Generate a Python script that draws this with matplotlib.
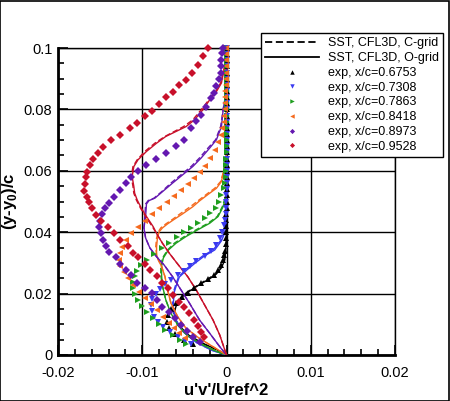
import matplotlib
matplotlib.use("Agg")
import matplotlib.pyplot as plt
from matplotlib.lines import Line2D
from matplotlib.patches import Rectangle
from matplotlib.ticker import MultipleLocator, FixedLocator

plt.rcParams['font.family'] = ['Liberation Sans', 'DejaVu Sans']
plt.rcParams['mathtext.fontset'] = 'custom'
plt.rcParams['mathtext.rm'] = 'Liberation Sans'
plt.rcParams['mathtext.bf'] = 'Liberation Sans:bold'

# ---------------- experimental data ----------------
exp_labels = ["exp, x/c=0.6753", "exp, x/c=0.7308", "exp, x/c=0.7863",
              "exp, x/c=0.8418", "exp, x/c=0.8973", "exp, x/c=0.9528"]

y_exp_black = [0.100, 0.098, 0.096, 0.094, 0.092, 0.090, 0.088, 0.086, 0.084, 0.082,
               0.080, 0.078, 0.076, 0.074, 0.072, 0.070, 0.068, 0.066, 0.064, 0.062,
               0.060, 0.058, 0.056, 0.054, 0.052, 0.050, 0.048, 0.046, 0.044, 0.042,
               0.040, 0.038, 0.036, 0.034, 0.0325, 0.031, 0.0293, 0.0277, 0.0261, 0.0247,
               0.0234, 0.0217, 0.0203, 0.0188, 0.0169, 0.0149, 0.0130, 0.0109, 0.0088,
               0.0068, 0.0050, 0.0035]
x_exp_black = [0.0, 0.0, 0.0, 0.0, 0.0, 0.0, 0.0, 0.0, 0.0, 0.0,
               0.0, 0.0, 0.0, 0.0, 0.0, 0.0, 0.0, 0.0, 0.0, 0.0,
               0.0, 0.0, 0.0, 0.0, 0.0, 0.0, 0.0, -0.0001, -0.0001, -0.0001,
               -0.0001, -0.0001, -0.0001, -0.0002, -0.0003, -0.0004, -0.0006, -0.0010, -0.0015, -0.0022,
               -0.0030, -0.0038, -0.0046, -0.0053, -0.0060, -0.0066, -0.0070, -0.0071, -0.0068,
               -0.0061, -0.0050, -0.0040]

y_exp_blue = [0.100, 0.098, 0.096, 0.094, 0.092, 0.090, 0.088, 0.086, 0.084, 0.082,
              0.080, 0.078, 0.076, 0.074, 0.072, 0.070, 0.068, 0.066, 0.064, 0.062,
              0.060, 0.058, 0.056, 0.054, 0.052, 0.050, 0.048, 0.046, 0.0440, 0.0424,
              0.0402, 0.0380, 0.0358, 0.0340, 0.0322, 0.0305, 0.0290, 0.0275, 0.0260, 0.0245,
              0.0230, 0.0215, 0.0199, 0.0181, 0.0163, 0.0143, 0.0124, 0.0108, 0.0091, 0.0075,
              0.0059, 0.0045, 0.0035]
x_exp_blue = [0.0, 0.0, 0.0, 0.0, 0.0, 0.0, 0.0, 0.0, 0.0, 0.0,
              0.0, 0.0, 0.0, 0.0, 0.0, 0.0, 0.0, 0.0, 0.0, 0.0,
              0.0, 0.0, 0.0, 0.0, -0.0001, -0.0001, -0.0001, -0.0001, -0.0002, -0.0003,
              -0.0005, -0.0008, -0.0012, -0.0018, -0.0026, -0.0036, -0.0043, -0.0050, -0.0058, -0.0066,
              -0.0073, -0.0079, -0.0084, -0.0088, -0.0090, -0.0089, -0.0086, -0.0081, -0.0075, -0.0067,
              -0.0058, -0.0049, -0.0042]

y_exp_green = [0.100, 0.098, 0.096, 0.094, 0.092, 0.090, 0.088, 0.086, 0.084, 0.082,
               0.080, 0.078, 0.076, 0.074, 0.072, 0.070, 0.068, 0.066, 0.064, 0.062,
               0.060, 0.058, 0.056, 0.0543, 0.0522, 0.0500, 0.0480, 0.0462, 0.0446, 0.0430,
               0.0415, 0.0400, 0.0383, 0.0365, 0.0347, 0.0329, 0.0311, 0.0293, 0.0275, 0.0256,
               0.0237, 0.0218, 0.0199, 0.0180, 0.0161, 0.0141, 0.0121, 0.0101, 0.0083, 0.0066,
               0.0050, 0.0035]
x_exp_green = [0.0, 0.0, 0.0, 0.0, 0.0, 0.0, 0.0, 0.0, 0.0, 0.0,
               0.0, 0.0, 0.0, 0.0, 0.0, 0.0, 0.0, 0.0, -0.0001, -0.0001,
               -0.0001, -0.0001, -0.0002, -0.0003, -0.0006, -0.0009, -0.0013, -0.0019, -0.0026, -0.0034,
               -0.0042, -0.0050, -0.0059, -0.0068, -0.0077, -0.0086, -0.0094, -0.0101, -0.0106, -0.0109,
               -0.0111, -0.0111, -0.0109, -0.0105, -0.0100, -0.0094, -0.0087, -0.0080, -0.0073, -0.0064,
               -0.0055, -0.0048]

y_exp_orange = [0.100, 0.098, 0.096, 0.094, 0.092, 0.090, 0.088, 0.086, 0.084, 0.082,
                0.080, 0.078, 0.0760, 0.0740, 0.0717, 0.0694, 0.0668, 0.0642, 0.0616, 0.0596,
                0.0576, 0.0557, 0.0538, 0.0518, 0.0498, 0.0478, 0.0458, 0.0438, 0.0418, 0.0397,
                0.0375, 0.0353, 0.0331, 0.0309, 0.0289, 0.0270, 0.0250, 0.0228, 0.0206, 0.0185,
                0.0165, 0.0145, 0.0125, 0.0105, 0.0088, 0.0072, 0.0056]
x_exp_orange = [-0.0001, -0.0001, -0.0001, -0.0001, -0.0001, -0.0001, -0.0001, -0.0002, -0.0002, -0.0002,
                -0.0002, -0.0003, -0.0003, -0.0005, -0.0007, -0.0010, -0.0014, -0.0019, -0.0025, -0.0031,
                -0.0038, -0.0046, -0.0054, -0.0062, -0.0071, -0.0080, -0.0088, -0.0097, -0.0105, -0.0113,
                -0.0119, -0.0124, -0.0127, -0.0128, -0.0126, -0.0122, -0.0117, -0.0111, -0.0104, -0.0097,
                -0.0090, -0.0082, -0.0075, -0.0068, -0.0062, -0.0056, -0.0049]

y_exp_purple = [0.1000, 0.0984, 0.0962, 0.0940, 0.0918, 0.0899, 0.0877, 0.0855, 0.0837, 0.0809,
                0.0782, 0.0761, 0.0739, 0.0701, 0.0681, 0.0658, 0.0638, 0.0619, 0.0598, 0.0581,
                0.0560, 0.0538, 0.0516, 0.0496, 0.0478, 0.0460, 0.0438, 0.0418, 0.0397, 0.0375,
                0.0355, 0.0337, 0.0320, 0.0297, 0.0277, 0.0261, 0.0236, 0.0217, 0.0201, 0.0179,
                0.0157, 0.0141, 0.0120, 0.0098, 0.0078, 0.0058, 0.0042]
x_exp_purple = [-0.0004, -0.0005, -0.0006, -0.0006, -0.0007, -0.0009, -0.0012, -0.0015, -0.0018, -0.0024,
                -0.0030, -0.0036, -0.0042, -0.0050, -0.0060, -0.0072, -0.0084, -0.0095, -0.0105, -0.0113,
                -0.0119, -0.0127, -0.0133, -0.0139, -0.0144, -0.0148, -0.0150, -0.0151, -0.0149, -0.0147,
                -0.0143, -0.0139, -0.0131, -0.0126, -0.0119, -0.0113, -0.0106, -0.0097, -0.0089, -0.0083,
                -0.0076, -0.0068, -0.0061, -0.0054, -0.0047, -0.0040, -0.0032]

y_exp_red = [0.1000, 0.0974, 0.0945, 0.0918, 0.0896, 0.0880, 0.0858, 0.0839, 0.0818, 0.0796,
             0.0777, 0.0757, 0.0738, 0.0717, 0.0701, 0.0677, 0.0657, 0.0638, 0.0619, 0.0597,
             0.0579, 0.0557, 0.0535, 0.0516, 0.0497, 0.0478, 0.0456, 0.0438, 0.0418, 0.0397,
             0.0375, 0.0355, 0.0332, 0.0319, 0.0297, 0.0277, 0.0258, 0.0236, 0.0217, 0.0196,
             0.0174, 0.0156, 0.0136, 0.0114, 0.0095, 0.0075, 0.0058]
x_exp_red = [-0.0022, -0.0028, -0.0034, -0.0041, -0.0048, -0.0056, -0.0064, -0.0072, -0.0080, -0.0089,
             -0.0097, -0.0106, -0.0114, -0.0127, -0.0137, -0.0146, -0.0152, -0.0158, -0.0162, -0.0165,
             -0.0167, -0.0168, -0.0169, -0.0166, -0.0163, -0.0160, -0.0155, -0.0149, -0.0141, -0.0133,
             -0.0126, -0.0117, -0.0111, -0.0105, -0.0097, -0.0091, -0.0083, -0.0076, -0.0070, -0.0064,
             -0.0056, -0.0050, -0.0044, -0.0039, -0.0034, -0.0030, -0.0027]

# ---------------- CFD (SST, CFL3D) data ----------------
y_cfd_black = [0.1, 0.0375, 0.0342, 0.031, 0.0284, 0.0264, 0.0248, 0.0231, 0.0215, 0.0199,
               0.0179, 0.0158, 0.0137, 0.0117, 0.0095, 0.0065, 0.0038, 0.0018, 0.0]
x_o_black = [0.0, 0.0, -0.0001, -0.0002, -0.0006, -0.0012, -0.0020, -0.0031, -0.0040, -0.0049,
             -0.0056, -0.0060, -0.0062, -0.0061, -0.0056, -0.0045, -0.0028, -0.0012, 0.0]
x_c_black = [0.0, 0.0, -0.0001, -0.0003, -0.0007, -0.0013, -0.0022, -0.0032, -0.0041, -0.0050,
             -0.0057, -0.0061, -0.0063, -0.0062, -0.0057, -0.0046, -0.0029, -0.0012, 0.0]

y_cfd_blue = [0.1, 0.046, 0.0424, 0.0398, 0.0372, 0.0342, 0.0323, 0.030, 0.0277, 0.0254,
              0.0231, 0.0205, 0.0173, 0.0147, 0.0114, 0.0077, 0.0041, 0.0015, 0.0]
x_o_blue = [0.0, 0.0, -0.0001, -0.0002, -0.0006, -0.0014, -0.0026, -0.0037, -0.0047, -0.0056,
            -0.0059, -0.0062, -0.0063, -0.0063, -0.0060, -0.0052, -0.0036, -0.0017, 0.0]
x_c_blue = [0.0, 0.0, -0.0001, -0.0003, -0.0007, -0.0016, -0.0028, -0.0039, -0.0049, -0.0057,
            -0.0060, -0.0063, -0.0064, -0.0063, -0.0060, -0.0052, -0.0036, -0.0017, 0.0]

y_cfd_green = [0.1, 0.054, 0.0516, 0.0483, 0.0451, 0.0429, 0.0408, 0.0386, 0.0364, 0.0342,
               0.0316, 0.029, 0.0258, 0.0225, 0.0179, 0.0136, 0.0098, 0.0062, 0.0033, 0.0013, 0.0]
x_o_green = [0.0, 0.0, -0.0001, -0.0004, -0.0010, -0.0020, -0.0034, -0.0048, -0.0060, -0.0069,
             -0.0075, -0.0077, -0.0077, -0.0076, -0.0072, -0.0066, -0.0058, -0.0046, -0.0028, -0.0013, 0.0]
x_c_green = [0.0, 0.0, -0.0001, -0.0005, -0.0011, -0.0022, -0.0036, -0.0050, -0.0062, -0.0070,
             -0.0076, -0.0078, -0.0078, -0.0076, -0.0072, -0.0066, -0.0058, -0.0046, -0.0028, -0.0013, 0.0]

y_cfd_orange = [0.1, 0.065, 0.0626, 0.0592, 0.0565, 0.0543, 0.0527, 0.0502, 0.0483, 0.046,
                0.0442, 0.0427, 0.0414, 0.0401, 0.0381, 0.0352, 0.0326, 0.031, 0.0288, 0.0255,
                0.0212, 0.0169, 0.0125, 0.0087, 0.0054, 0.0027, 0.0]
x_o_orange = [0.0, 0.0, -0.0001, -0.0004, -0.0006, -0.0012, -0.0020, -0.0032, -0.0040, -0.0052,
              -0.0062, -0.0070, -0.0076, -0.0080, -0.0082, -0.0083, -0.0083, -0.0081, -0.0077, -0.0073,
              -0.0070, -0.0066, -0.0058, -0.0048, -0.0032, -0.0016, 0.0]
x_c_orange = [0.0, 0.0, -0.0001, -0.0004, -0.0007, -0.0014, -0.0022, -0.0034, -0.0043, -0.0055,
              -0.0064, -0.0072, -0.0078, -0.0081, -0.0083, -0.0084, -0.0083, -0.0081, -0.0077, -0.0073,
              -0.0070, -0.0066, -0.0058, -0.0048, -0.0032, -0.0016, 0.0]

y_cfd_purple = [0.1, 0.09, 0.0831, 0.0799, 0.0744, 0.0701, 0.0674, 0.0642, 0.0614, 0.0587,
                0.056, 0.0532, 0.0511, 0.0503, 0.0492, 0.0451, 0.0414, 0.0381, 0.0349, 0.032,
                0.0293, 0.0255, 0.0212, 0.0169, 0.0114, 0.0071, 0.0027, 0.0]
x_o_purple = [0.0, 0.0, -0.0002, -0.0004, -0.0006, -0.0012, -0.0020, -0.0030, -0.0040, -0.0052,
              -0.0064, -0.0076, -0.0085, -0.0092, -0.0095, -0.0096, -0.0098, -0.0096, -0.0091, -0.0083,
              -0.0074, -0.0064, -0.0054, -0.0044, -0.0032, -0.0020, -0.0008, 0.0]
x_c_purple = [0.0, 0.0, -0.0002, -0.0004, -0.0007, -0.0013, -0.0022, -0.0032, -0.0042, -0.0054,
              -0.0066, -0.0077, -0.0086, -0.0093, -0.0096, -0.0097, -0.0098, -0.0096, -0.0091, -0.0083,
              -0.0074, -0.0064, -0.0054, -0.0044, -0.0032, -0.0020, -0.0008, 0.0]

y_cfd_red = [0.1, 0.0962, 0.0929, 0.0886, 0.0858, 0.0831, 0.0799, 0.0766, 0.0744, 0.0728,
             0.0712, 0.069, 0.0663, 0.0636, 0.0614, 0.0581, 0.0549, 0.0527, 0.0505, 0.0478,
             0.0451, 0.0418, 0.0391, 0.0364, 0.0332, 0.030, 0.0255, 0.0212, 0.0163, 0.0114,
             0.0065, 0.0]
x_o_red = [0.0, -0.0001, -0.0003, -0.0006, -0.0012, -0.0020, -0.0028, -0.0038, -0.0048, -0.0060,
           -0.0072, -0.0083, -0.0095, -0.0105, -0.0110, -0.0112, -0.0110, -0.0109, -0.0106, -0.0101,
           -0.0095, -0.0087, -0.0082, -0.0076, -0.0068, -0.0059, -0.0046, -0.0036, -0.0026, -0.0016,
           -0.0008, 0.0]
x_c_red = [0.0, -0.0001, -0.0003, -0.0007, -0.0013, -0.0021, -0.0030, -0.0040, -0.0051, -0.0062,
           -0.0073, -0.0085, -0.0097, -0.0106, -0.0111, -0.0113, -0.0111, -0.0110, -0.0107, -0.0102,
           -0.0096, -0.0088, -0.0082, -0.0076, -0.0068, -0.0059, -0.0046, -0.0036, -0.0026, -0.0016,
           -0.0008, 0.0]

colors = ['#000000', '#3a3af0', '#1f9e1f', '#f56a1e', '#6418b0', '#c8102a']
markers = ['^', 'v', '>', '<', 'D', 'D']

x_exp = [x_exp_black, x_exp_blue, x_exp_green, x_exp_orange, x_exp_purple, x_exp_red]
y_exp = [y_exp_black, y_exp_blue, y_exp_green, y_exp_orange, y_exp_purple, y_exp_red]
y_cfd = [y_cfd_black, y_cfd_blue, y_cfd_green, y_cfd_orange, y_cfd_purple, y_cfd_red]
x_o = [x_o_black, x_o_blue, x_o_green, x_o_orange, x_o_purple, x_o_red]
x_c = [x_c_black, x_c_blue, x_c_green, x_c_orange, x_c_purple, x_c_red]

x_ticks = [-0.02, -0.01, 0.0, 0.01, 0.02]
x_ticklabels = ["-0.02", "-0.01", "0", "0.01", "0.02"]
y_ticks = [0.0, 0.02, 0.04, 0.06, 0.08, 0.1]
y_ticklabels = ["0", "0.02", "0.04", "0.06", "0.08", "0.1"]

fig = plt.figure(figsize=(4.5, 4.01), dpi=100)
ax = fig.add_axes([58/450, 46/401, 337/450, 307/401])

for i in range(6):
    ax.plot(x_c[i], y_cfd[i], color=colors[i], lw=1.0, ls=(0, (4, 2)), zorder=3)
    ax.plot(x_o[i], y_cfd[i], color=colors[i], lw=1.0, ls='-', zorder=3)
for i in range(6):
    ms = 3.8 if markers[i] == 'D' else 4.6
    ax.plot(x_exp[i], y_exp[i], ls='none', marker=markers[i], color=colors[i],
            markersize=ms, markeredgewidth=0, zorder=4, clip_on=False)

ax.set_xlim(-0.02, 0.02)
ax.set_ylim(0, 0.1)
ax.xaxis.set_major_locator(FixedLocator(x_ticks))
ax.set_xticklabels(x_ticklabels)
ax.yaxis.set_major_locator(FixedLocator(y_ticks))
ax.set_yticklabels(y_ticklabels)
ax.xaxis.set_minor_locator(MultipleLocator(0.002))
ax.yaxis.set_minor_locator(MultipleLocator(0.005))
ax.tick_params(which='both', direction='in', top=False, right=False, labelsize=10.5, width=1.2)
ax.tick_params(which='major', length=7)
ax.tick_params(which='minor', length=4)
ax.tick_params(axis='x', which='major', pad=8)
ax.tick_params(axis='y', which='major', pad=4)
ax.grid(True, which='major', color='black', lw=1.0)
ax.set_axisbelow(True)
for s in ['left', 'bottom']:
    ax.spines[s].set_linewidth(2.0)
for s in ['top', 'right']:
    ax.spines[s].set_linewidth(1.0)

ax.set_xlabel("u'v'/Uref^2", fontsize=12, fontweight='bold')
ax.xaxis.set_label_coords(0.5, -0.092)
ax.set_ylabel(r"(y-y$_{\mathbf{0}}$)/c", fontsize=12, fontweight='bold')
ax.yaxis.set_label_coords(-0.115, 0.5)

handles = [Line2D([], [], color='black', lw=1.3, ls=(0, (4, 2))),
           Line2D([], [], color='black', lw=1.3, ls='-')]
labels = ["SST, CFL3D, C-grid", "SST, CFL3D, O-grid"]
for i in range(6):
    handles.append(Line2D([], [], ls='none', marker=markers[i], color=colors[i],
                          markersize=3.2 if markers[i] != 'D' else 2.6, markeredgewidth=0))
    labels.append(exp_labels[i])
leg = ax.legend(handles, labels, loc='upper left', bbox_to_anchor=(261/450, 1 - 33/401),
                bbox_transform=fig.transFigure, borderaxespad=0, fontsize=9,
                frameon=True, fancybox=False, edgecolor='black', framealpha=1,
                handlelength=4.3, handletextpad=0.7, labelspacing=0.22, borderpad=0.35)
leg.get_frame().set_linewidth(1.0)
leg.set_zorder(10)

fig.patches.append(Rectangle((0.001, 0.001), 0.997, 0.997, transform=fig.transFigure,
                             fill=False, edgecolor='black', lw=1.2))

fig.savefig("out.png", dpi=100)
